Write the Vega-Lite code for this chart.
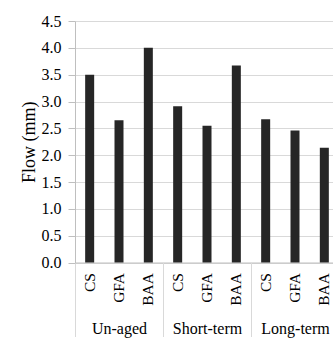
{
  "$schema": "https://vega.github.io/schema/vega-lite/v6.json",
  "width": 258,
  "height": 241.5,
  "autosize": {"type": "none"},
  "padding": {"left": 75, "top": 21, "right": 0, "bottom": 86.5},
  "background": "white",
  "config": {
    "view": {"stroke": null},
    "font": "Liberation Serif",
    "axis": {"labelColor": "#000000", "titleColor": "#000000", "labelFont": "Liberation Serif", "titleFont": "Liberation Serif"}
  },
  "data": {
    "values": [
      {"group": "Un-aged", "sub": "CS", "key": "Un-aged|CS", "flow": 3.5},
      {"group": "Un-aged", "sub": "GFA", "key": "Un-aged|GFA", "flow": 2.65},
      {"group": "Un-aged", "sub": "BAA", "key": "Un-aged|BAA", "flow": 4.0},
      {"group": "Short-term", "sub": "CS", "key": "Short-term|CS", "flow": 2.91},
      {"group": "Short-term", "sub": "GFA", "key": "Short-term|GFA", "flow": 2.55},
      {"group": "Short-term", "sub": "BAA", "key": "Short-term|BAA", "flow": 3.67},
      {"group": "Long-term", "sub": "CS", "key": "Long-term|CS", "flow": 2.67},
      {"group": "Long-term", "sub": "GFA", "key": "Long-term|GFA", "flow": 2.46},
      {"group": "Long-term", "sub": "BAA", "key": "Long-term|BAA", "flow": 2.14}
    ]
  },
  "resolve": {"scale": {"x": "independent"}, "axis": {"x": "independent"}},
  "layer": [
    {
      "mark": {"type": "bar", "color": "#262626"},
      "encoding": {
        "x": {
          "field": "key",
          "type": "nominal",
          "sort": null,
          "scale": {"range": [0, 264], "paddingInner": 0.693, "paddingOuter": 0.3465},
          "axis": {
            "orient": "bottom",
            "title": null,
            "labelExpr": "split(datum.value, '|')[1]",
            "labelAngle": 270,
            "labelAlign": "right",
            "labelBaseline": "middle",
            "labelFont": "Liberation Serif",
            "labelFontSize": 15.5,
            "labelPadding": 10,
            "ticks": false,
            "domain": true,
            "domainColor": "#bfbfbf",
            "grid": false
          }
        },
        "y": {
          "field": "flow",
          "type": "quantitative",
          "scale": {"domain": [0, 4.5], "nice": false, "zero": true},
          "axis": {
            "title": "Flow (mm)",
            "titleFont": "Liberation Serif",
            "titleFontSize": 18,
            "titleFontWeight": "normal",
            "titlePadding": 3,
            "values": [0, 0.5, 1, 1.5, 2, 2.5, 3, 3.5, 4, 4.5],
            "format": ".1f",
            "labelFont": "Liberation Serif",
            "labelFontSize": 16,
            "labelPadding": 7,
            "tickSize": 7,
            "tickColor": "#bfbfbf",
            "domainColor": "#bfbfbf",
            "grid": true,
            "gridColor": "#d9d9d9"
          }
        }
      }
    },
    {
      "mark": {"type": "point", "opacity": 0},
      "encoding": {
        "x": {
          "field": "group",
          "type": "nominal",
          "sort": ["Un-aged", "Short-term", "Long-term"],
          "scale": {"range": [0, 264], "paddingInner": 0, "paddingOuter": 0},
          "axis": {
            "orient": "bottom",
            "title": null,
            "labelAngle": 0,
            "labelFont": "Liberation Serif",
            "labelFontSize": 16,
            "labelBaseline": "alphabetic",
            "labelPadding": -3,
            "ticks": true,
            "tickBand": "extent",
            "tickSize": 74,
            "tickColor": "#d9d9d9",
            "domain": false,
            "grid": false
          }
        }
      }
    }
  ]
}
